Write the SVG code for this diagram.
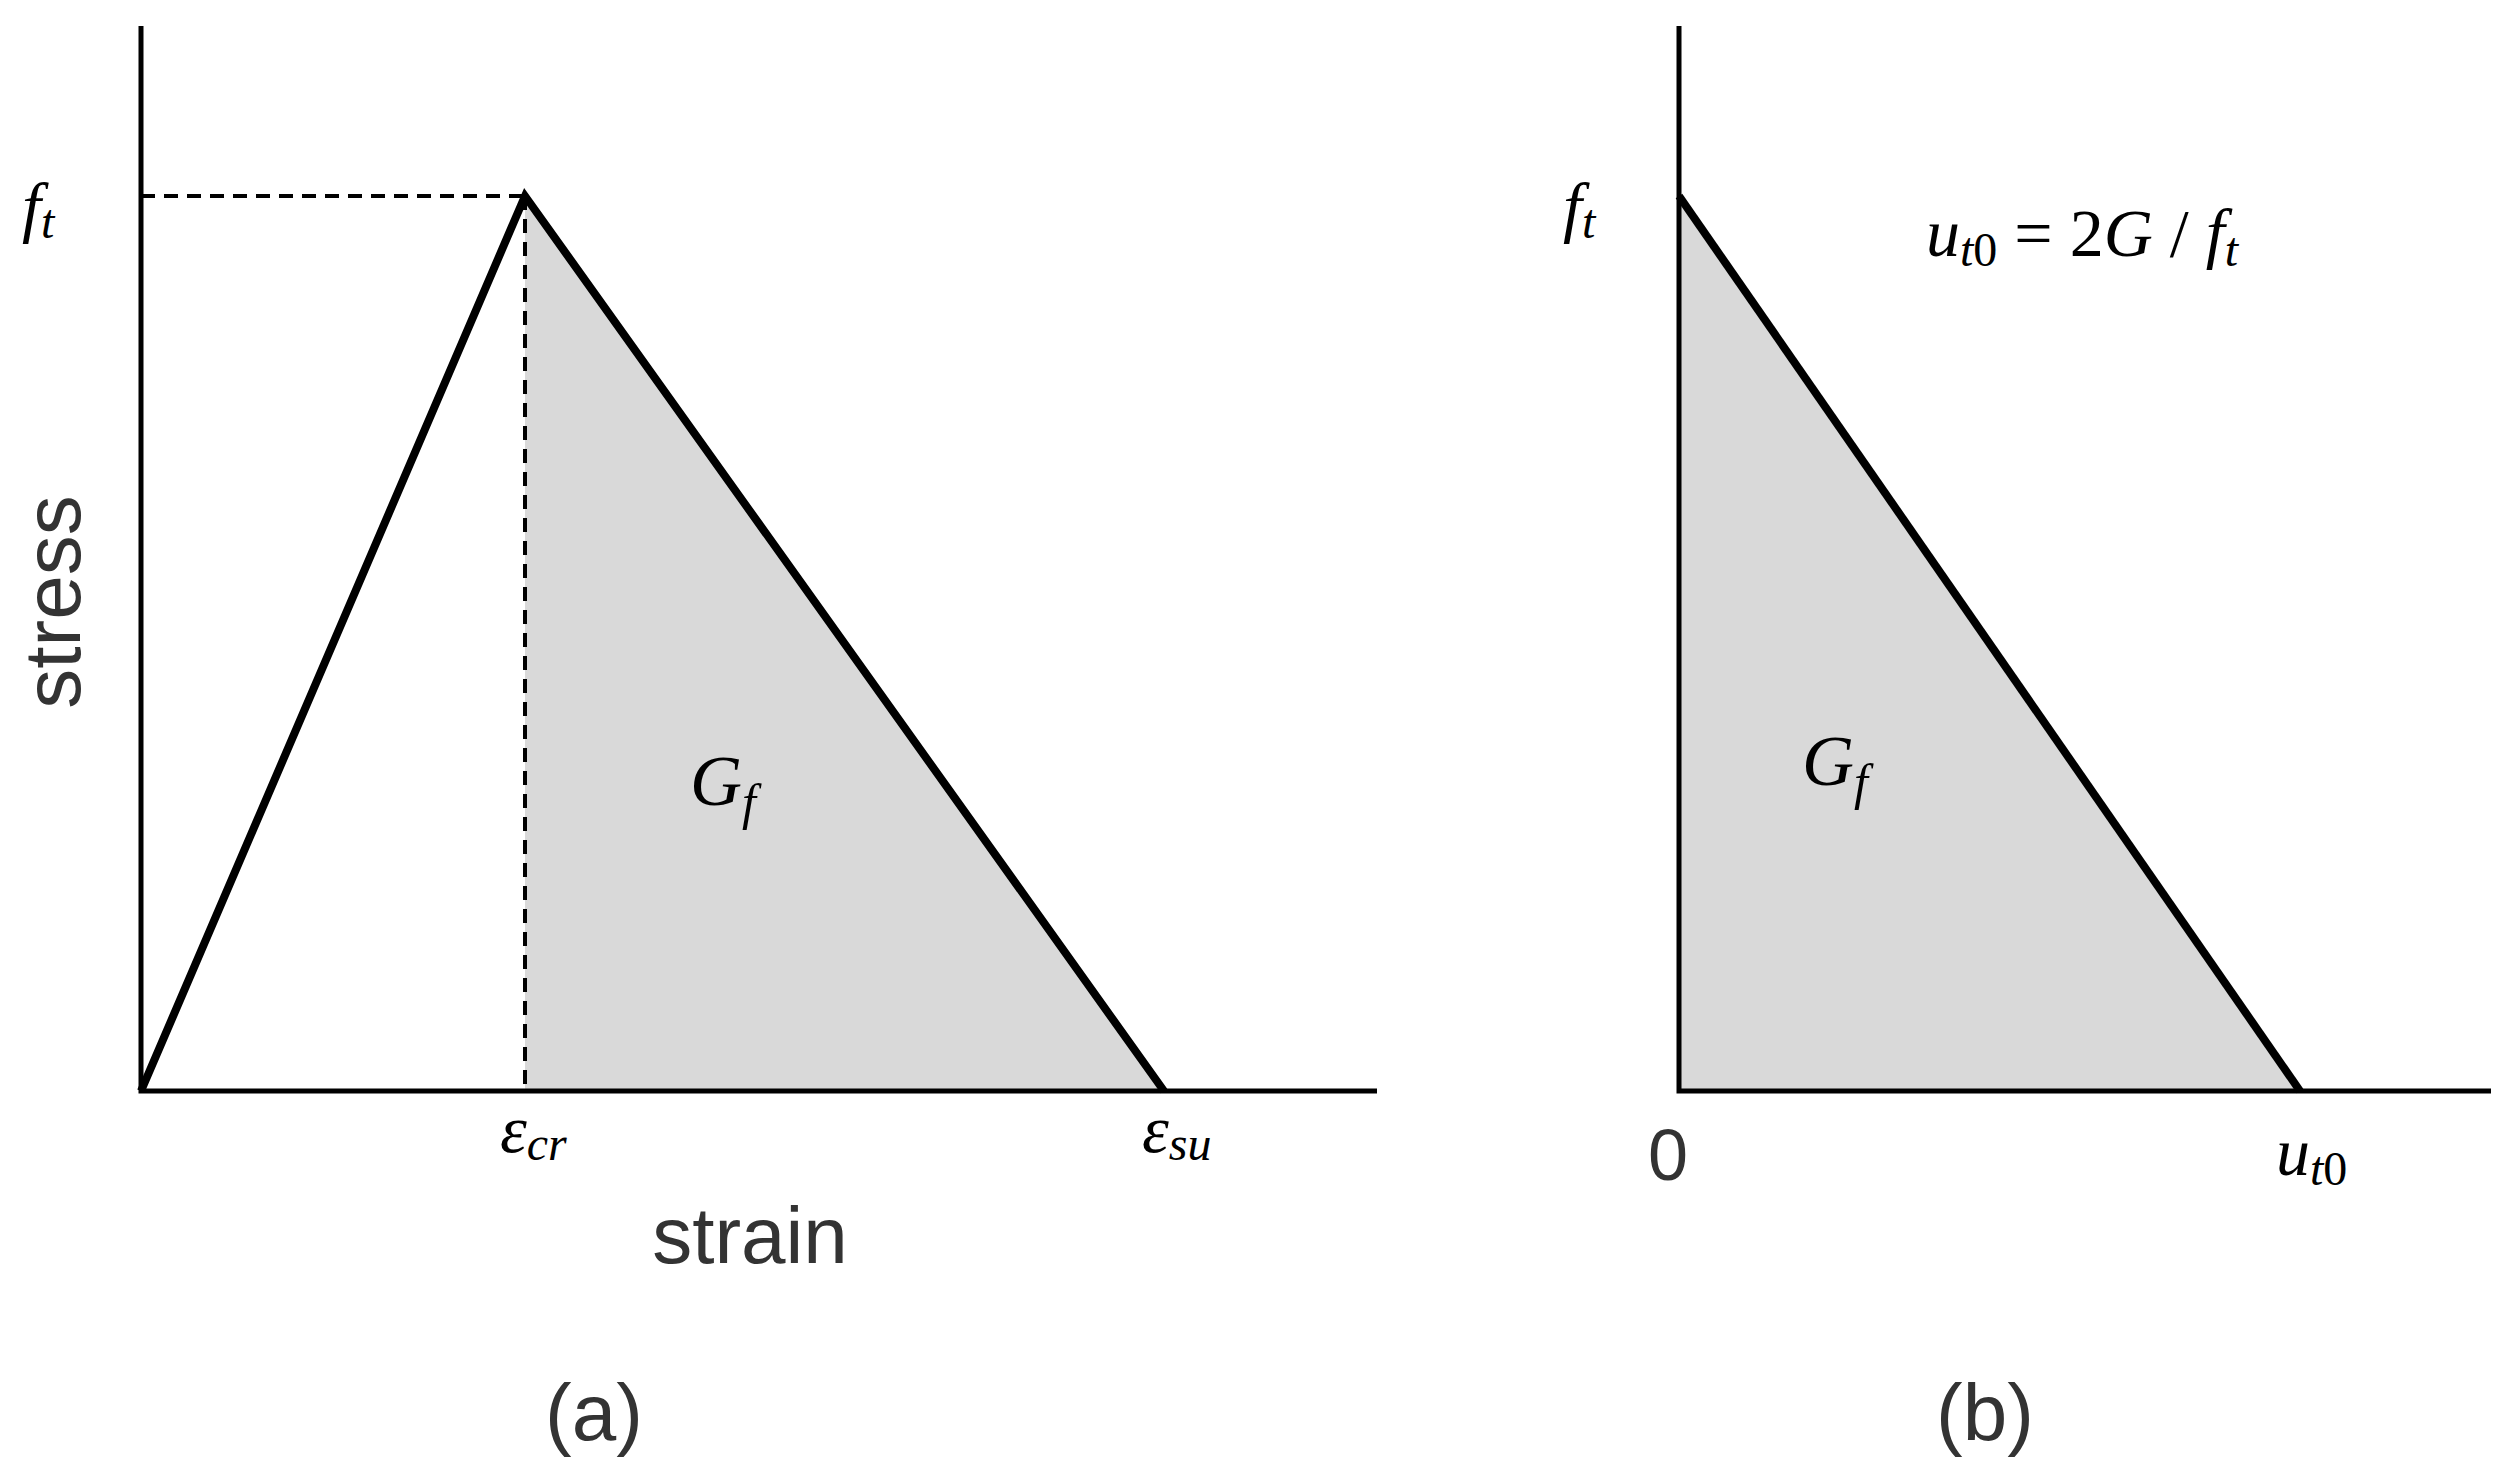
<svg xmlns="http://www.w3.org/2000/svg" width="2517" height="1475" viewBox="0 0 2517 1475">
<style>
.ax{stroke:#000;stroke-width:5;fill:none}
.cv{stroke:#000;stroke-width:8;fill:none;stroke-linejoin:miter}
.ds{stroke:#000;stroke-width:4;stroke-dasharray:14,9;fill:none}
.m{font-family:"Liberation Serif",serif;font-style:italic;fill:#000}
.s{font-family:"Liberation Sans",Arial,sans-serif;fill:#333}
</style>
<rect width="2517" height="1475" fill="#fff"/>
<g id="plot-a">
<polygon points="525,196 1164,1091 525,1091" fill="#d9d9d9"/>
<g id="connectors-a">
<line class="ds" x1="141" y1="196" x2="525" y2="196"/>
<line class="ds" x1="525" y1="196" x2="525" y2="1091"/>
<polyline class="ax" points="141,26 141,1091 1377,1091"/>
<polyline class="cv" points="141,1091 525,196 1164,1091"/>
</g>
<text class="m" x="22" y="230" font-size="68">f<tspan font-size="48" dy="8">t</tspan></text>
<text class="s" font-size="80" text-anchor="middle" transform="translate(80,602) rotate(-90)">stress</text>
<text class="m" x="500" y="1152" font-size="68">ε<tspan font-size="48" dy="8">cr</tspan></text>
<text class="m" x="1142" y="1152" font-size="68">ε<tspan font-size="48" dy="8">su</tspan></text>
<text class="s" x="750" y="1263" font-size="80" text-anchor="middle">strain</text>
<text class="m" x="690" y="805" font-size="72">G<tspan font-size="50" dy="14">f</tspan></text>
<text class="s" x="594" y="1440" font-size="80" text-anchor="middle">(a)</text>
</g>
<g id="plot-b">
<polygon points="1679,196 2300,1091 1679,1091" fill="#d9d9d9"/>
<g id="connectors-b">
<polyline class="ax" points="1679,26 1679,1091 2491,1091"/>
<line class="cv" x1="1679" y1="196" x2="2300" y2="1091"/>
</g>
<text class="m" x="1563" y="230" font-size="68">f<tspan font-size="48" dy="8">t</tspan></text>
<text class="m" x="1926" y="256" font-size="68">u<tspan font-size="48" dy="10">t</tspan><tspan font-style="normal" font-size="48">0</tspan><tspan dy="-10" font-style="normal"> = 2</tspan>G<tspan font-style="normal"> / </tspan>f<tspan font-size="48" dy="10">t</tspan></text>
<text class="m" x="1802" y="785" font-size="72">G<tspan font-size="50" dy="14">f</tspan></text>
<text class="s" x="1668" y="1180" font-size="72" text-anchor="middle">0</text>
<text class="m" x="2276" y="1175" font-size="68">u<tspan font-size="48" dy="10">t</tspan><tspan font-style="normal" font-size="48">0</tspan></text>
<text class="s" x="1985" y="1440" font-size="80" text-anchor="middle">(b)</text>
</g>
</svg>
